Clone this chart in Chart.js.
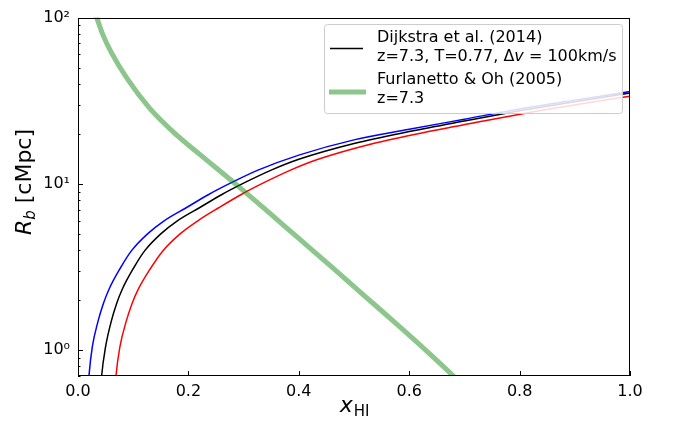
<!DOCTYPE html>
<html>
<head>
<meta charset="utf-8">
<script src="https://cdn.jsdelivr.net/npm/chart.js@4.4.1/dist/chart.umd.min.js"></script>
<style>
  body { margin: 0; background: #fff; }
  #wrap { width: 673px; height: 425px; position: relative; }
</style>
</head>
<body>
<div id="wrap"><canvas id="chart"></canvas></div>
<script>
// Data (x = neutral fraction, y = bubble radius in cMpc)
const blackX = [0.039, 0.043, 0.050, 0.060, 0.070, 0.080, 0.100, 0.121, 0.150, 0.180, 0.220, 0.260, 0.300, 0.350, 0.400, 0.500, 0.600, 0.700, 0.800, 0.900, 1.000];
const blackY = [0.45, 0.71, 1.05, 1.48, 1.91, 2.32, 3.09, 3.97, 5.01, 6.00, 7.19, 8.61, 10.1, 12.1, 14.06, 17.5, 20.65, 23.9, 27.5, 31.2, 35.2];

const blueX  = [0.016, 0.020, 0.026, 0.036, 0.046, 0.056, 0.076, 0.097, 0.126, 0.156, 0.196, 0.236, 0.276, 0.326, 0.400, 0.500, 0.600, 0.700, 0.800, 0.900, 1.000];
const blueY  = [0.45, 0.71, 1.05, 1.48, 1.91, 2.32, 3.09, 3.97, 5.01, 6.00, 7.19, 8.61, 10.1, 12.1, 14.9, 18.4, 21.3, 24.5, 28.2, 31.9, 35.9];

const redX   = [0.065, 0.069, 0.076, 0.087, 0.098, 0.109, 0.131, 0.154, 0.185, 0.217, 0.255, 0.295, 0.335, 0.385, 0.435, 0.535, 0.635, 0.735, 0.835, 0.935, 1.000];
const redY   = [0.45, 0.71, 1.05, 1.48, 1.91, 2.32, 3.09, 3.97, 5.01, 6.00, 7.19, 8.61, 10.1, 12.1, 14.06, 17.5, 20.65, 23.9, 27.5, 31.2, 33.7];

const greenX = [0.030, 0.034, 0.045, 0.060, 0.090, 0.130, 0.180, 0.220, 0.290, 0.340, 0.400, 0.460, 0.520, 0.580, 0.630, 0.680, 0.700];
const greenY = [110, 100, 79, 62, 42.5, 28.5, 19.5, 15.1, 9.7, 7.0, 4.7, 3.16, 2.11, 1.41, 1.0, 0.70, 0.60];

// Axis ticks
const xTicks = [0.0, 0.2, 0.4, 0.6, 0.8, 1.0];
const yTickValues = [1, 10, 100];
const yTickLabels = ['10\u2070', '10\u00b9', '10\u00b2'];

// Legend text
const legendBlack = ['Dijkstra et al. (2014)', 'z=7.3, T=0.77, \u0394', 'v', ' = 100km/s'];
const legendGreen = ['Furlanetto & Oh (2005)', 'z=7.3'];

const GREEN = 'rgba(0,128,0,0.45)';
const FONT = 'DejaVu Sans';

function pts(xs, ys) {
  return xs.map((x, i) => ({ x: x, y: ys[i] }));
}

function line(label, xs, ys, color, width) {
  return {
    label: label,
    data: pts(xs, ys),
    borderColor: color,
    borderWidth: width,
    pointRadius: 0,
    fill: false,
    cubicInterpolationMode: 'monotone'
  };
}

// frame, inward ticks, axis titles and legend
const decorations = {
  id: 'decorations',
  afterDraw(chart) {
    const ctx = chart.ctx;
    const a = chart.chartArea;
    const xs = chart.scales.x;
    const ys = chart.scales.y;
    ctx.save();

    // frame
    ctx.strokeStyle = '#000';
    ctx.lineWidth = 1;
    ctx.strokeRect(Math.round(a.left) + 0.5, Math.round(a.top) + 0.5,
      Math.round(a.right - a.left) - 1, Math.round(a.bottom - a.top) - 1);

    // x ticks (inward)
    ctx.beginPath();
    xTicks.forEach(v => {
      const px = Math.round(xs.getPixelForValue(v)) + 0.5;
      ctx.moveTo(px, a.bottom);
      ctx.lineTo(px, a.bottom - 5);
    });
    // y ticks: majors and minors
    for (let d = -1; d <= 2; d++) {
      for (let m = 1; m <= 9; m++) {
        const v = m * Math.pow(10, d);
        if (v < ys.min - 1e-9 || v > ys.max + 1e-9) continue;
        const py = Math.round(ys.getPixelForValue(v)) + 0.5;
        const len = m === 1 ? 5 : 2.5;
        ctx.moveTo(a.left, py);
        ctx.lineTo(a.left + len, py);
      }
    }
    ctx.stroke();

    // x title
    ctx.fillStyle = '#000';
    ctx.textBaseline = 'alphabetic';
    ctx.font = 'italic 22px ' + FONT;
    const wx = ctx.measureText('x').width;
    ctx.font = '15px ' + FONT;
    const wHI = ctx.measureText('HI').width;
    let sx = (a.left + a.right) / 2 - (wx + wHI) / 2;
    ctx.font = 'italic 22px ' + FONT;
    ctx.fillText('x', sx, 412);
    ctx.font = '15px ' + FONT;
    ctx.fillText('HI', sx + wx + 1, 416);

    // y title
    ctx.save();
    ctx.translate(31, 182);
    ctx.rotate(-Math.PI / 2);
    ctx.font = 'italic 22px ' + FONT;
    const wR = ctx.measureText('R').width;
    ctx.font = 'italic 15px ' + FONT;
    const wb = ctx.measureText('b').width;
    ctx.font = '22px ' + FONT;
    const wRest = ctx.measureText(' [cMpc]').width;
    let sy = -(wR + wb + wRest) / 2;
    ctx.font = 'italic 22px ' + FONT;
    ctx.fillText('R', sy, 0);
    ctx.font = 'italic 15px ' + FONT;
    ctx.fillText('b', sy + wR, 4);
    ctx.font = '22px ' + FONT;
    ctx.fillText(' [cMpc]', sy + wR + wb, 0);
    ctx.restore();

    // legend box
    ctx.beginPath();
    ctx.roundRect(324.5, 24.5, 298, 89, 3);
    ctx.fillStyle = 'rgba(255,255,255,0.85)';
    ctx.fill();
    ctx.strokeStyle = '#cccccc';
    ctx.lineWidth = 1;
    ctx.stroke();

    // legend handles
    ctx.beginPath();
    ctx.strokeStyle = '#000';
    ctx.lineWidth = 1.5;
    ctx.moveTo(330, 48.5);
    ctx.lineTo(363, 48.5);
    ctx.stroke();
    ctx.beginPath();
    ctx.strokeStyle = GREEN;
    ctx.lineWidth = 5;
    ctx.moveTo(329, 92);
    ctx.lineTo(366, 92);
    ctx.stroke();

    // legend text
    ctx.fillStyle = '#000';
    ctx.textBaseline = 'middle';
    ctx.font = '16px ' + FONT;
    const tx = 377;
    ctx.fillText(legendBlack[0], tx, 38);
    ctx.fillText(legendBlack[1], tx, 57);
    let w1 = ctx.measureText(legendBlack[1]).width;
    ctx.font = 'italic 16px ' + FONT;
    ctx.fillText(legendBlack[2], tx + w1, 57);
    let w2 = ctx.measureText(legendBlack[2]).width;
    ctx.font = '16px ' + FONT;
    ctx.fillText(legendBlack[3], tx + w1 + w2, 57);
    ctx.fillText(legendGreen[0], tx, 80);
    ctx.fillText(legendGreen[1], tx, 99);

    ctx.restore();
  }
};

const chart = new Chart(document.getElementById('chart'), {
  type: 'line',
  data: {
    datasets: [
      line('Furlanetto & Oh (2005)', greenX, greenY, GREEN, 5),
      line('Dijkstra et al. (2014)', blackX, blackY, '#000000', 1.5),
      line('blue', blueX, blueY, '#0000ff', 1.5),
      line('red', redX, redY, '#ff0000', 1.5)
    ]
  },
  options: {
    responsive: true,
    maintainAspectRatio: false,
    animation: false,
    layout: { padding: { left: 0, top: 16, right: 43, bottom: 0 } },
    plugins: {
      legend: { display: false },
      tooltip: { enabled: false }
    },
    scales: {
      x: {
        type: 'linear',
        min: 0,
        max: 1,
        grid: { display: false, drawTicks: false },
        border: { display: false },
        afterBuildTicks: s => { s.ticks = xTicks.map(v => ({ value: v })); },
        afterFit: s => { s.height = 49; },
        ticks: {
          padding: 6,
          color: '#000',
          font: { family: FONT, size: 16 },
          maxRotation: 0,
          callback: v => v.toFixed(1)
        }
      },
      y: {
        type: 'logarithmic',
        min: 0.7,
        max: 100,
        grid: { display: false, drawTicks: false },
        border: { display: false },
        afterBuildTicks: s => { s.ticks = yTickValues.map(v => ({ value: v })); },
        afterFit: s => { s.width = 78; },
        ticks: {
          padding: 8,
          color: '#000',
          font: { family: FONT, size: 16 },
          callback: v => {
            const i = yTickValues.indexOf(v);
            return i >= 0 ? yTickLabels[i] : '';
          }
        }
      }
    }
  },
  plugins: [decorations]
});
</script>
</body>
</html>
